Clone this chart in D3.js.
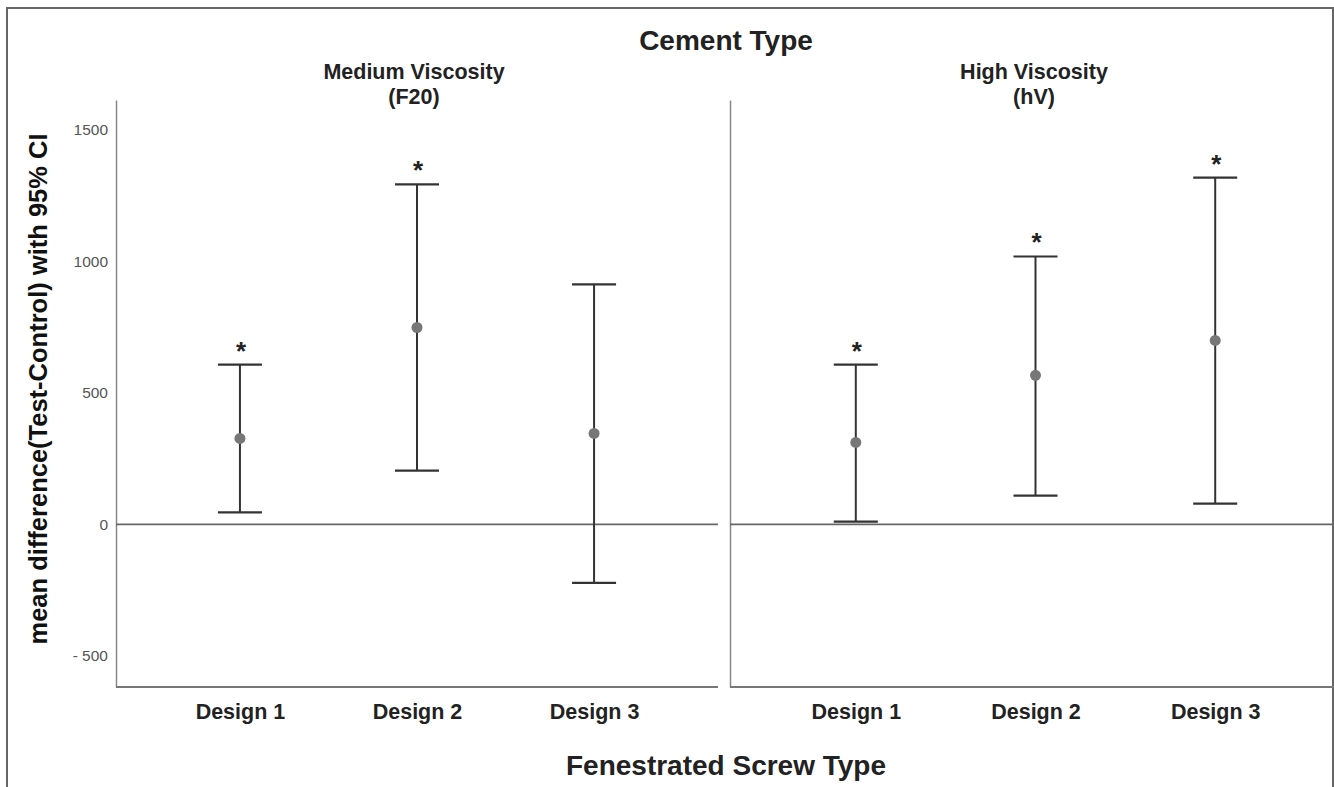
<!DOCTYPE html>
<html>
<head>
<meta charset="utf-8">
<script src="https://cdn.jsdelivr.net/npm/d3@7"></script>
<style>
  body { margin: 0; background: #fff; }
  text { font-family: "Liberation Sans", Arial, sans-serif; }
</style>
</head>
<body>
<svg width="1334" height="787"></svg>
<script>
const designs = ["Design 1", "Design 2", "Design 3"];
const panels = ["Medium Viscosity", "High Viscosity"];
const panelSub = ["(F20)", "(hV)"];
// mean, lower, upper per design
const medMean = [327, 749, 346];
const medLow = [46, 205, -222];
const medHigh = [608, 1293, 913];
const medSig = [true, true, false];
const highMean = [312, 567, 700];
const highLow = [11, 110, 79];
const highHigh = [608, 1019, 1319];
const highSig = [true, true, true];
const yTicks = [-500, 0, 500, 1000, 1500];

const svg = d3.select("svg");

// outer frame
svg.append("path")
  .attr("d", "M7,787 V8 H1333 V787")
  .attr("fill", "none")
  .attr("stroke", "#666")
  .attr("stroke-width", 2);

const y = d3.scaleLinear()
  .domain([-618, 1614])
  .range([687, 100]);

const panelData = [
  { name: panels[0], sub: panelSub[0], x0: 116, x1: 718, mean: medMean, low: medLow, high: medHigh, sig: medSig },
  { name: panels[1], sub: panelSub[1], x0: 730, x1: 1341, mean: highMean, low: highLow, high: highHigh, sig: highSig }
];

panelData.forEach((p, i) => {
  const x = d3.scalePoint().domain(designs).range([p.x0, p.x1]).padding(0.7);
  const g = svg.append("g");

  // y axis line (labels only on left panel)
  const yAxis = d3.axisLeft(y).tickValues(yTicks).tickSize(0).tickPadding(8)
    .tickFormat(d => d < 0 ? "- " + Math.abs(d) : d);
  const ya = g.append("g")
    .attr("transform", `translate(${p.x0},0)`)
    .call(yAxis);
  ya.select(".domain").attr("stroke", "#888").attr("stroke-width", 1.5);
  ya.selectAll("text")
    .attr("fill", "#555")
    .style("font-size", "15.5px");
  if (i > 0) ya.selectAll(".tick").remove();

  // x axis
  const xa = g.append("g")
    .attr("transform", `translate(0,${y.range()[0]})`)
    .call(d3.axisBottom(x).tickSize(0).tickPadding(17).tickSizeOuter(0));
  xa.select(".domain").attr("stroke", "#777").attr("stroke-width", 1.8)
    .attr("d", `M${p.x0},0H${p.x1}`);
  xa.selectAll("text")
    .attr("fill", "#222")
    .style("font-size", "21.5px")
    .style("font-weight", "bold");

  // zero line
  g.append("line")
    .attr("x1", p.x0).attr("x2", p.x1)
    .attr("y1", y(0)).attr("y2", y(0))
    .attr("stroke", "#666").attr("stroke-width", 1.8);

  // panel header
  const cx = i ? 1034 : 414;
  g.append("text")
    .attr("x", cx)
    .attr("y", 79)
    .attr("text-anchor", "middle")
    .style("font-size", "21.5px").style("font-weight", "bold").attr("fill", "#222")
    .text(p.name);
  g.append("text")
    .attr("x", cx)
    .attr("y", 104)
    .attr("text-anchor", "middle")
    .style("font-size", "21.5px").style("font-weight", "bold").attr("fill", "#222")
    .text(p.sub);

  const rows = designs.map((d, k) => ({ d, mean: p.mean[k], low: p.low[k], high: p.high[k], sig: p.sig[k] }));
  const capW = 22;

  const bars = g.selectAll("g.ci").data(rows).enter().append("g").attr("class", "ci");
  bars.append("line")
    .attr("x1", d => x(d.d)).attr("x2", d => x(d.d))
    .attr("y1", d => y(d.low)).attr("y2", d => y(d.high))
    .attr("stroke", "#333").attr("stroke-width", 2);
  bars.append("line")
    .attr("x1", d => x(d.d) - capW).attr("x2", d => x(d.d) + capW)
    .attr("y1", d => y(d.high)).attr("y2", d => y(d.high))
    .attr("stroke", "#333").attr("stroke-width", 2.2);
  bars.append("line")
    .attr("x1", d => x(d.d) - capW).attr("x2", d => x(d.d) + capW)
    .attr("y1", d => y(d.low)).attr("y2", d => y(d.low))
    .attr("stroke", "#333").attr("stroke-width", 2.2);
  bars.append("circle")
    .attr("cx", d => x(d.d)).attr("cy", d => y(d.mean))
    .attr("r", 5.5)
    .attr("fill", "#777");
  bars.filter(d => d.sig).append("text")
    .attr("x", d => x(d.d) + 1).attr("y", d => y(d.high) - 5)
    .attr("text-anchor", "middle")
    .style("font-size", "26px").style("font-weight", "bold").attr("fill", "#222")
    .text("*");
});

// titles
svg.append("text")
  .attr("x", 726).attr("y", 50)
  .attr("text-anchor", "middle")
  .style("font-size", "28px").style("font-weight", "bold").attr("fill", "#222")
  .text("Cement Type");

svg.append("text")
  .attr("x", 726).attr("y", 775)
  .attr("text-anchor", "middle")
  .style("font-size", "28px").style("font-weight", "bold").attr("fill", "#222")
  .text("Fenestrated Screw Type");

svg.append("text")
  .attr("transform", "translate(47,389) rotate(-90)")
  .attr("text-anchor", "middle")
  .style("font-size", "25.5px").style("font-weight", "bold").attr("fill", "#111")
  .text("mean difference(Test-Control) with 95% CI");
</script>
</body>
</html>
